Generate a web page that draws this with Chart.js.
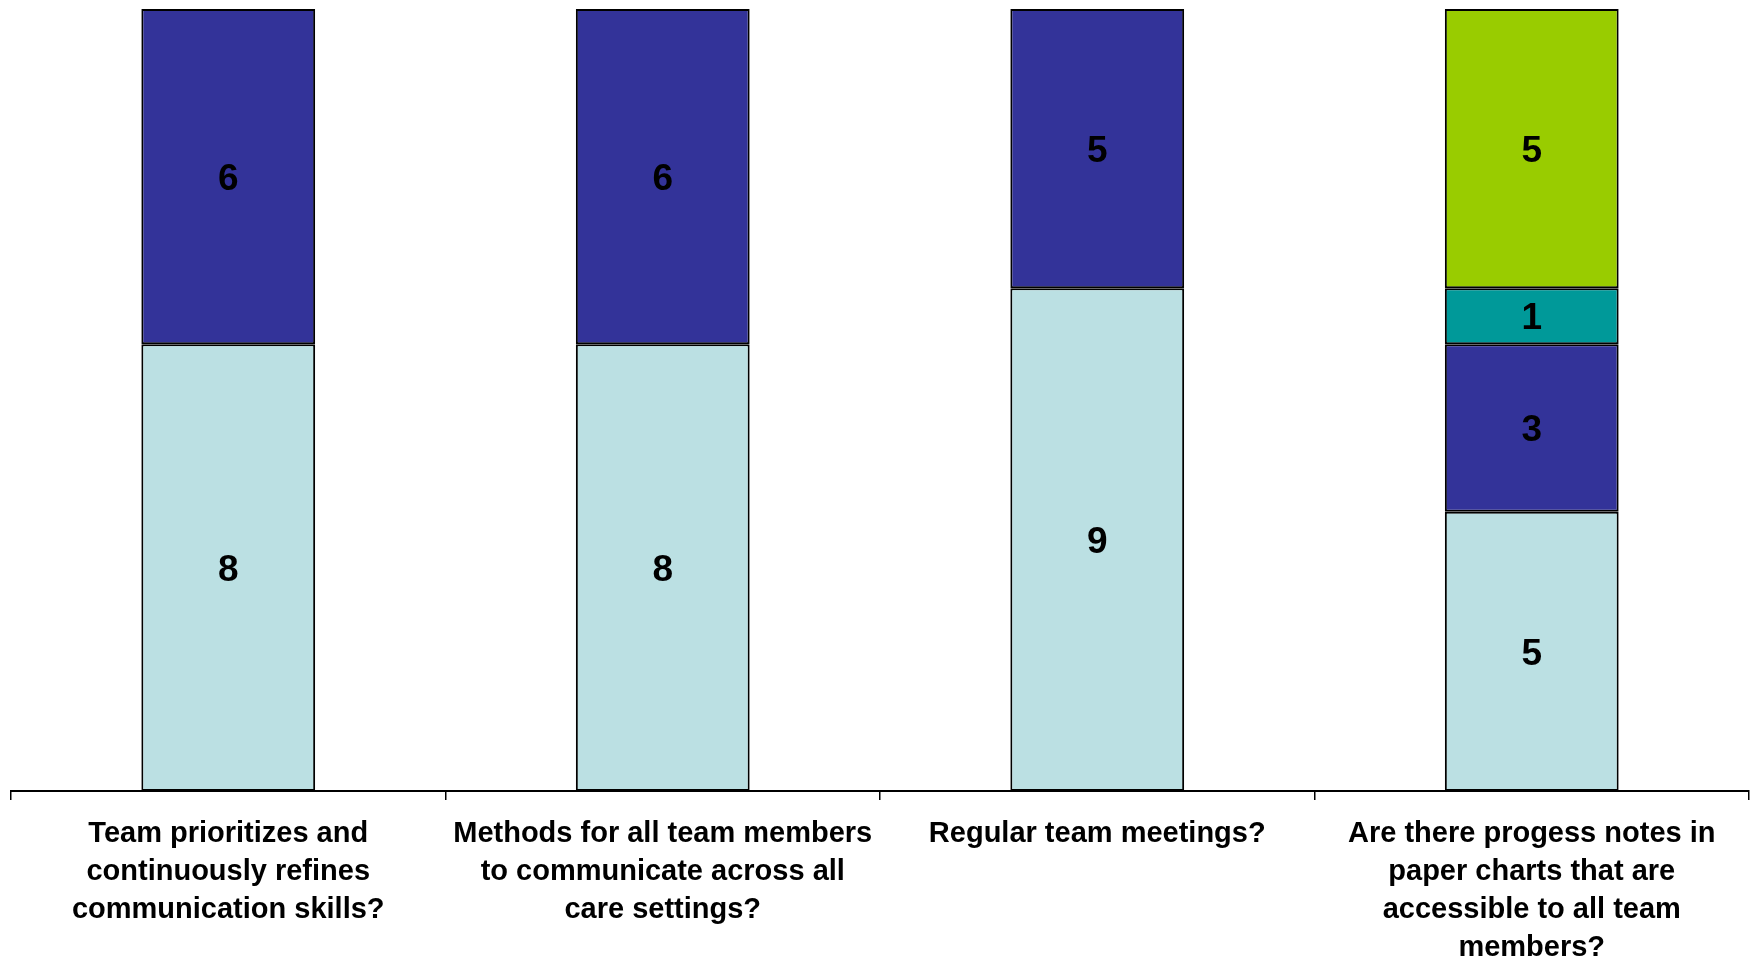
<!DOCTYPE html>
<html>
<head>
<meta charset="utf-8">
<script src="https://cdn.jsdelivr.net/npm/chart.js@4.4.1/dist/chart.umd.min.js"></script>
<style>
  html, body { margin: 0; padding: 0; background: #ffffff; }
  #wrap { width: 1752px; height: 957px; }
</style>
</head>
<body>
<div id="wrap"><canvas id="c" width="1752" height="957"></canvas></div>
<script>
// Survey questions (x categories), each split over several lines
const categories = [
  ["Team prioritizes and", "continuously refines", "communication skills?"],
  ["Methods for all team members", "to communicate across all", "care settings?"],
  ["Regular team meetings?"],
  ["Are there progess notes in", "paper charts that are", "accessible to all team", "members?"]
];

// Response counts, stacked from the bottom up
const lightSeries = [8, 8, 9, 5];
const navySeries  = [6, 6, 5, 3];
const tealSeries  = [null, null, null, 1];
const limeSeries  = [null, null, null, 5];

const yMax = 14;

// Writes each segment's count in the middle of its bar piece
const segmentLabels = {
  id: 'segmentLabels',
  afterDatasetsDraw(chart) {
    const ctx = chart.ctx;
    ctx.save();
    ctx.font = 'bold 37px "Liberation Sans", Arial, sans-serif';
    ctx.fillStyle = '#000000';
    ctx.textAlign = 'center';
    ctx.textBaseline = 'middle';
    chart.data.datasets.forEach((ds, di) => {
      const meta = chart.getDatasetMeta(di);
      meta.data.forEach((bar, i) => {
        const v = ds.data[i];
        if (v === null || v === undefined || v === 0) return;
        const p = bar.getProps(['x', 'y', 'base'], true);
        ctx.fillText(String(v), p.x, (p.y + p.base) / 2 + 3);
      });
    });
    ctx.restore();
  }
};

const common = {
  borderColor: '#000000',
  borderWidth: 2,
  borderSkipped: false,
  categoryPercentage: 1.0,
  barPercentage: 0.4
};

new Chart(document.getElementById('c'), {
  type: 'bar',
  data: {
    labels: categories,
    datasets: [
      Object.assign({ data: lightSeries, backgroundColor: '#BBE0E3' }, common),
      Object.assign({ data: navySeries,  backgroundColor: '#333399' }, common),
      Object.assign({ data: tealSeries,  backgroundColor: '#009999' }, common),
      Object.assign({ data: limeSeries,  backgroundColor: '#99CC00' }, common)
    ]
  },
  options: {
    responsive: false,
    animation: false,
    layout: { padding: { left: 11, right: 3, top: 9, bottom: 0 } },
    plugins: {
      legend: { display: false },
      tooltip: { enabled: false }
    },
    scales: {
      x: {
        stacked: true,
        offset: true,
        grid: {
          display: true,
          offset: true,
          drawOnChartArea: false,
          drawTicks: true,
          tickLength: 9,
          color: '#000000',
          lineWidth: 1.5
        },
        border: { display: true, color: '#000000', width: 2 },
        ticks: {
          color: '#000000',
          maxRotation: 0,
          minRotation: 0,
          autoSkip: false,
          padding: 15,
          font: { family: '"Liberation Sans", Arial, sans-serif', size: 29, weight: 'bold', lineHeight: 1.31 }
        },
        afterFit(scale) { scale.height = 166; }
      },
      y: {
        stacked: true,
        display: false,
        min: 0,
        max: yMax
      }
    }
  },
  plugins: [segmentLabels]
});
</script>
</body>
</html>
